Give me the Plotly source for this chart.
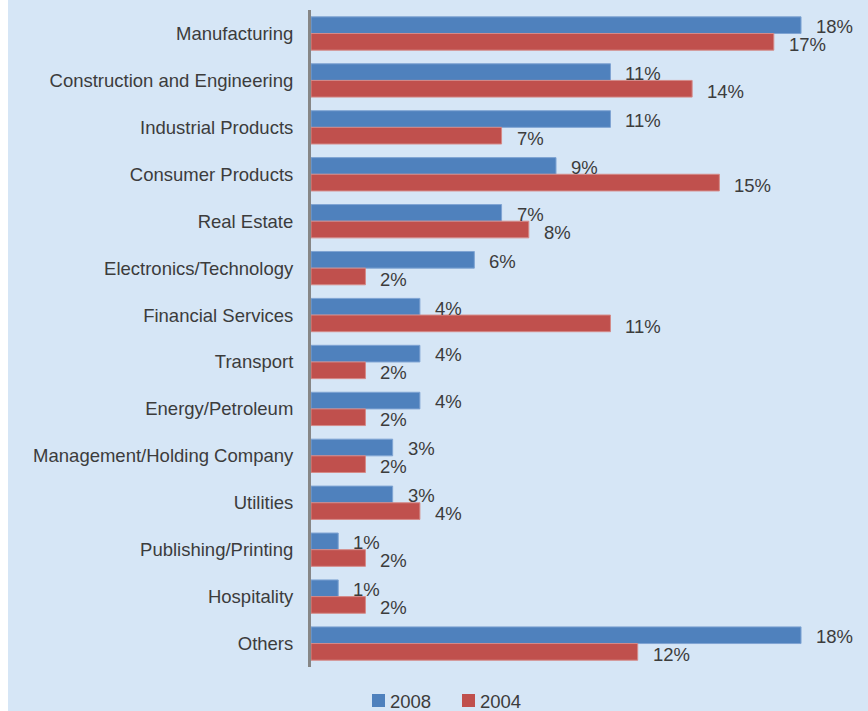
import plotly.graph_objects as go

# Industry share of companies, 2008 vs 2004 (percent)
categories = [
    "Manufacturing",
    "Construction and Engineering",
    "Industrial Products",
    "Consumer Products",
    "Real Estate",
    "Electronics/Technology",
    "Financial Services",
    "Transport",
    "Energy/Petroleum",
    "Management/Holding Company",
    "Utilities",
    "Publishing/Printing",
    "Hospitality",
    "Others",
]
share_2008 = [18, 11, 11, 9, 7, 6, 4, 4, 4, 3, 3, 1, 1, 18]
share_2004 = [17, 14, 7, 15, 8, 2, 11, 2, 2, 2, 4, 2, 2, 12]
series_names = ["2008", "2004"]

BLUE = "#4f81bd"
RED = "#c0504d"
BG = "#d6e6f6"
TEXT = "#3c3c3c"
FONT = "Liberation Sans, Arial, sans-serif"
FS = 18.5

W, H = 868, 711
ML, MR, MT, MB = 311, 0, 10, 44
plot_w = W - ML - MR
plot_h = H - MT - MB


def px_x(px):
    """pixel column -> paper x"""
    return (px - ML) / plot_w


def px_y(py):
    """pixel row -> paper y"""
    return (H - MB - py) / plot_h


fig = go.Figure()
fig.add_trace(go.Bar(
    name=series_names[0], y=categories, x=share_2008, orientation="h",
    marker=dict(color=BLUE, line=dict(color="#7fa4d3", width=1)),
))
fig.add_trace(go.Bar(
    name=series_names[1], y=categories, x=share_2004, orientation="h",
    marker=dict(color=RED, line=dict(color="#d58a88", width=1)),
))

# value labels just past each bar end
annotations = []
for vals, dy in ((share_2008, 7), (share_2004, -11)):
    for cat, v in zip(categories, vals):
        annotations.append(dict(
            x=v, y=cat, xref="x", yref="y", text=f"{v}%",
            showarrow=False, xanchor="left", yanchor="middle",
            xshift=13, yshift=dy,
            font=dict(family=FONT, size=FS, color=TEXT),
        ))

# legend: coloured squares with series names beneath the plot
shapes = [dict(
    type="rect", xref="paper", yref="paper",
    x0=-1, x1=px_x(8), y0=-1, y1=2,
    fillcolor="white", line=dict(width=0), layer="below",
)]
for name, color, sq_left in zip(series_names, (BLUE, RED), (372, 462)):
    shapes.append(dict(
        type="rect", xref="paper", yref="paper",
        x0=px_x(sq_left), x1=px_x(sq_left + 13),
        y0=px_y(707), y1=px_y(694),
        fillcolor=color, line=dict(width=0),
    ))
    annotations.append(dict(
        x=px_x(sq_left + 16), y=px_y(701), xref="paper", yref="paper",
        text=name, showarrow=False, xanchor="left", yanchor="middle",
        font=dict(family=FONT, size=FS, color=TEXT),
    ))

fig.update_layout(
    width=W, height=H,
    margin=dict(l=ML, r=MR, t=MT, b=MB, pad=0),
    paper_bgcolor=BG, plot_bgcolor=BG,
    barmode="group", bargap=0.29, bargroupgap=0,
    font=dict(family=FONT, size=FS, color=TEXT),
    xaxis=dict(range=[0, 20.46], visible=False, showgrid=False, zeroline=False),
    yaxis=dict(
        autorange="reversed", showgrid=False, zeroline=False,
        showline=True, linecolor="#868686", linewidth=3,
        ticks="", ticklabelstandoff=11,
        tickfont=dict(family=FONT, size=FS, color=TEXT),
    ),
    showlegend=False,
    annotations=annotations,
    shapes=shapes,
)

fig.write_html("out.html")
